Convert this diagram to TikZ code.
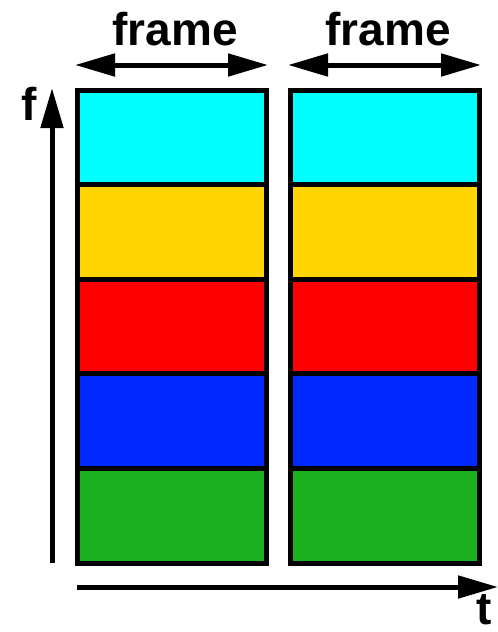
\documentclass[tikz,border=0pt]{standalone}
\usepackage{fontspec}
\setmainfont{Liberation Sans}
\usepackage{tikz}
\usetikzlibrary{arrows.meta,positioning}
\definecolor{bandcyan}{RGB}{0,255,255}
\definecolor{bandyellow}{RGB}{255,212,0}
\definecolor{bandred}{RGB}{255,0,0}
\definecolor{bandblue}{RGB}{0,40,255}
\definecolor{bandgreen}{RGB}{27,176,32}

\begin{document}
\begin{tikzpicture}[x=0.5pt, y=-0.5pt, line width=2.5pt, every node/.style={font=\fontsize{23}{23}\selectfont\bfseries}, >={Triangle[length=20pt,width=11pt]}]
\tikzstyle{band}=[draw, inner sep=0pt, outer sep=0pt, minimum width=94.5pt, minimum height=47.3pt]
\tikzstyle{lbl}=[anchor=base, inner sep=0pt]
\useasboundingbox (0,0) rectangle (498,632);
% first frame
\node[band, fill=bandcyan] (a1) at (171.5,137.3) {};
\node[band, fill=bandyellow, below=0pt of a1] (a2) {};
\node[band, fill=bandred, below=0pt of a2] (a3) {};
\node[band, fill=bandblue, below=0pt of a3] (a4) {};
\node[band, fill=bandgreen, below=0pt of a4] (a5) {};
% second frame
\node[band, fill=bandcyan] (b1) at (384.5,137.3) {};
\node[band, fill=bandyellow, below=0pt of b1] (b2) {};
\node[band, fill=bandred, below=0pt of b2] (b3) {};
\node[band, fill=bandblue, below=0pt of b3] (b4) {};
\node[band, fill=bandgreen, below=0pt of b4] (b5) {};
% frame lengths
\coordinate (fa-l) at (75,65);
\coordinate (fa-r) at (268,65);
\coordinate (fb-l) at (288,65);
\coordinate (fb-r) at (481,65);
\draw[<->] (fa-l) -- (fa-r);
\draw[<->] (fb-l) -- (fb-r);
\node[lbl] (frame-a) at (175,45) {frame};
\node[lbl] (frame-b) at (388,45) {frame};
% axes
\coordinate (f-lo) at (52,563);
\coordinate (f-hi) at (52,88);
\coordinate (t-lo) at (77,587);
\coordinate (t-hi) at (498,587);
\draw[->] (f-lo) -- (f-hi);
\draw[->] (t-lo) -- (t-hi);
\node[lbl] (f-name) at (29,120) {f};
\node[lbl] (t-name) at (484,624) {t};
\end{tikzpicture}
\end{document}
